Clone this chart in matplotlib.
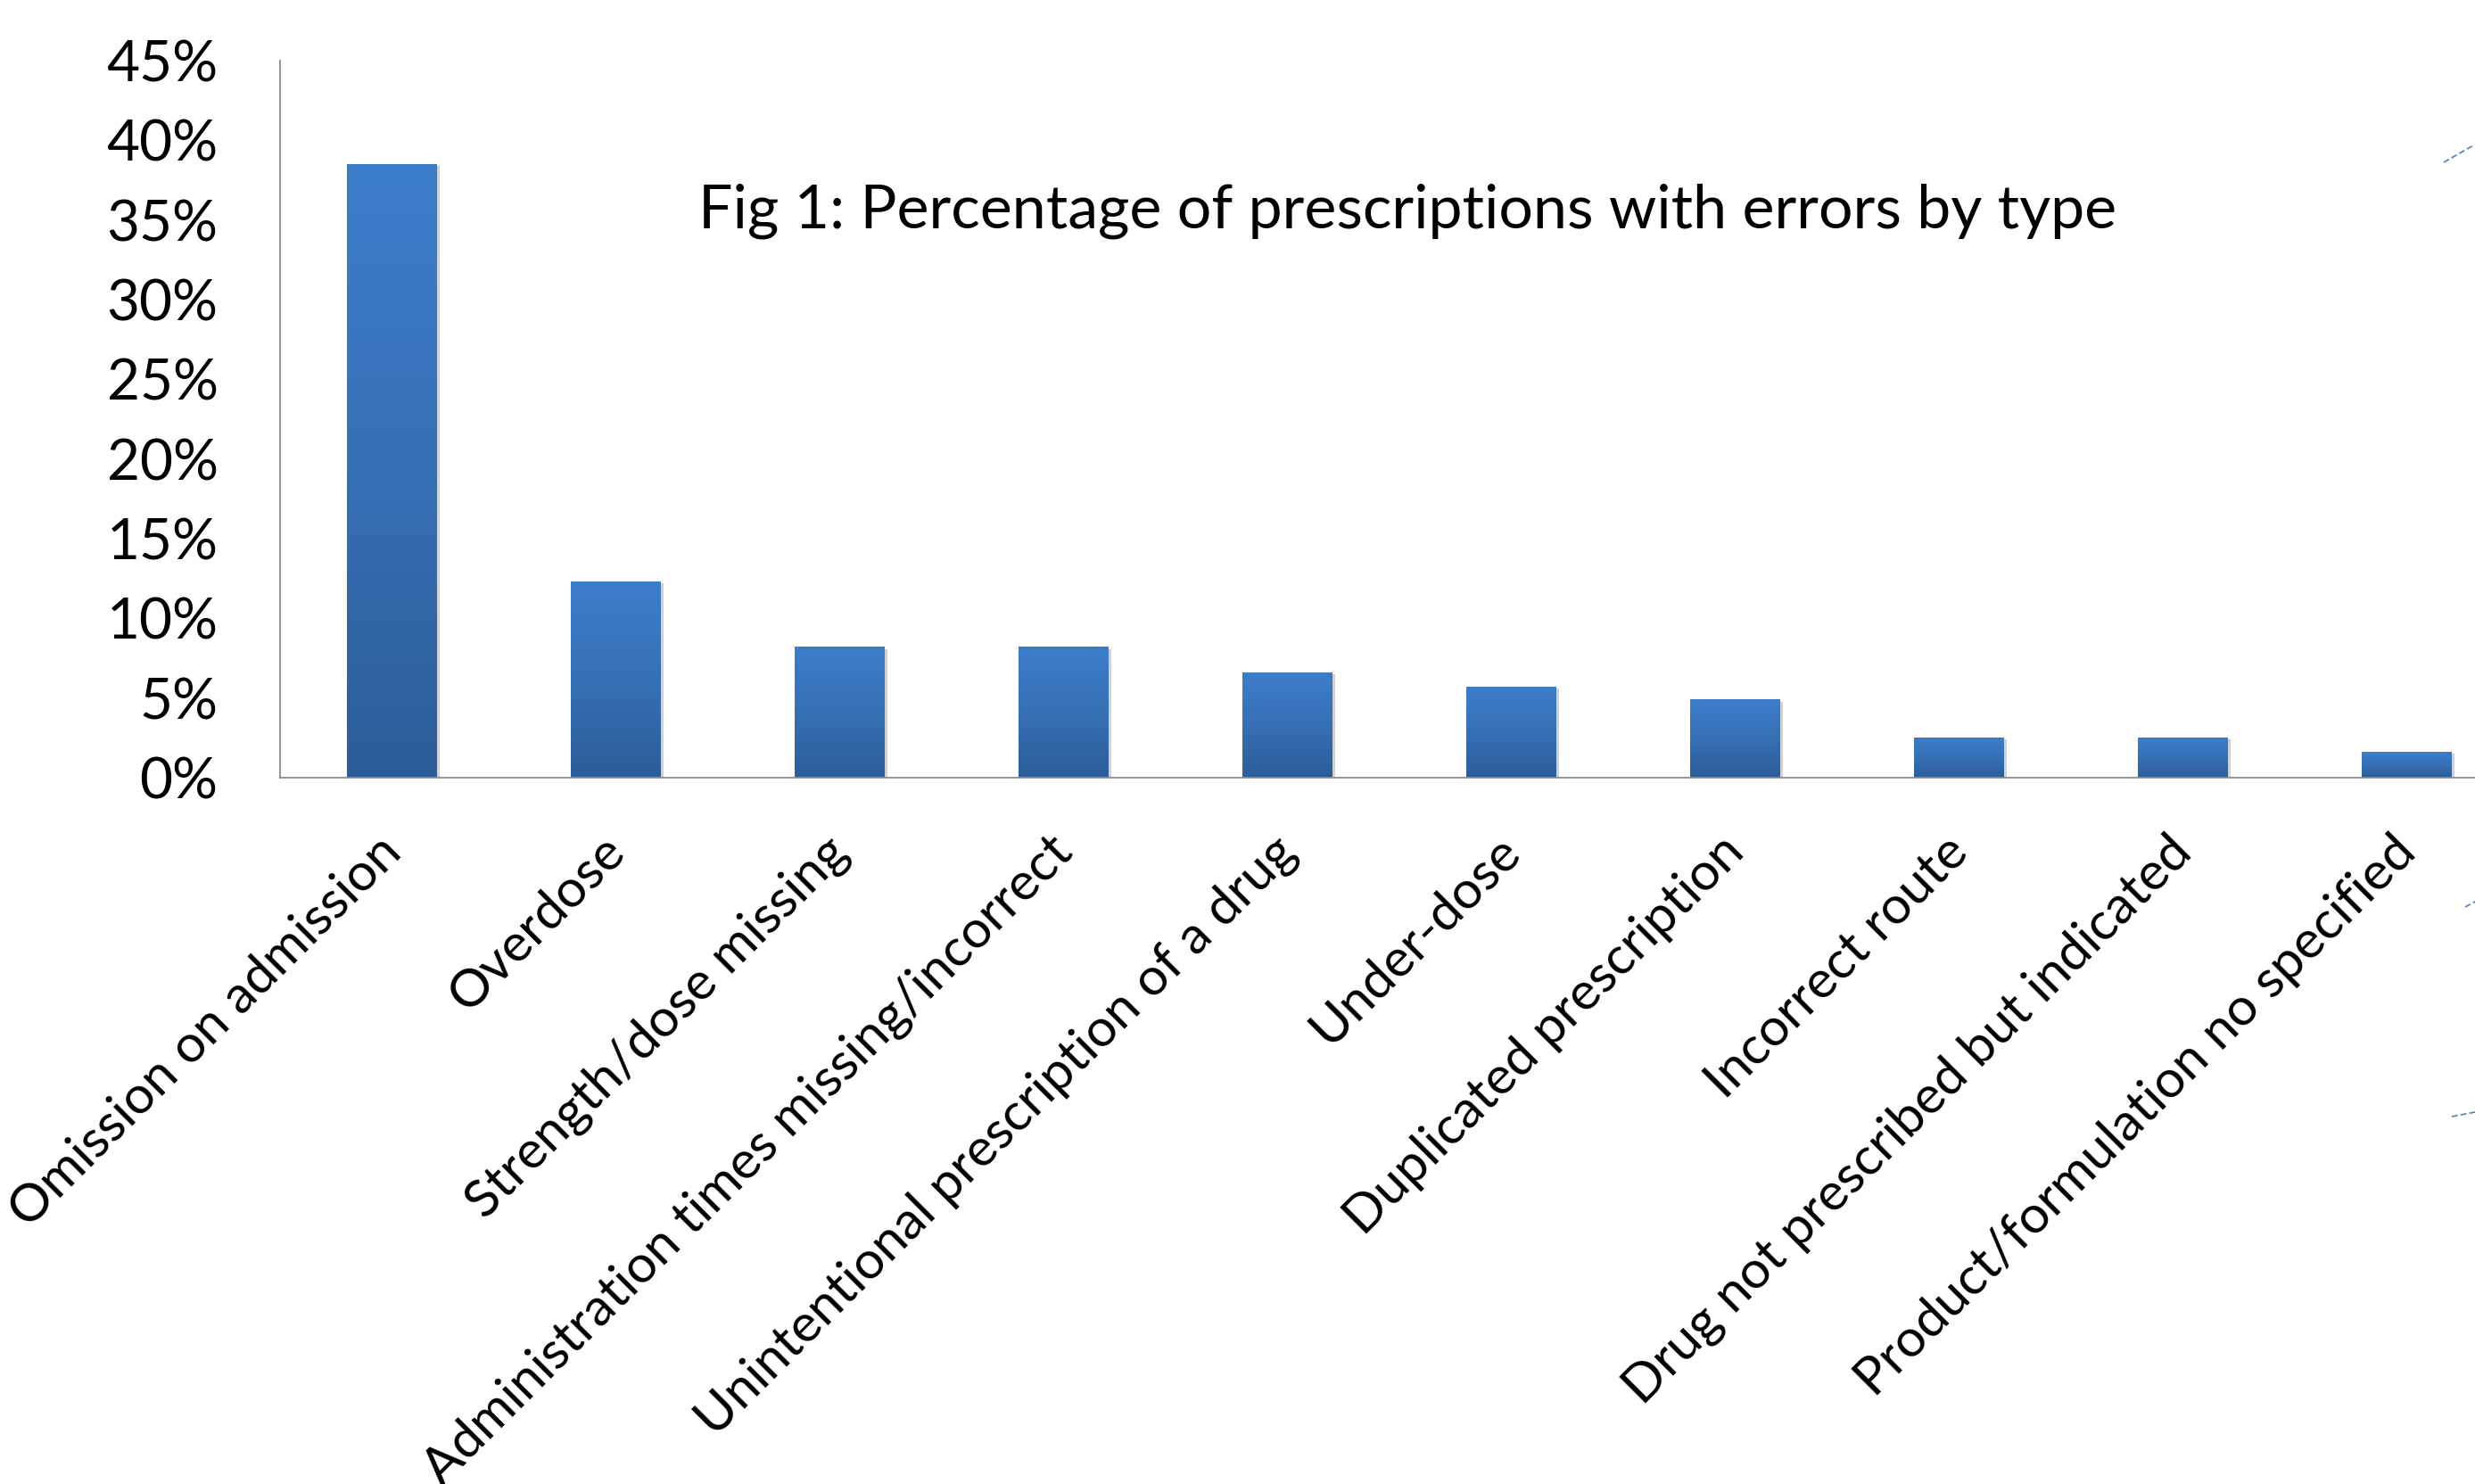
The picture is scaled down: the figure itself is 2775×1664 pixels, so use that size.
import numpy as np
import matplotlib
matplotlib.use("Agg")
import matplotlib.pyplot as plt
import matplotlib.patheffects as pe
from matplotlib.colors import LinearSegmentedColormap
from matplotlib.ticker import MultipleLocator, PercentFormatter
from matplotlib.transforms import ScaledTranslation

plt.rcParams["font.family"] = ["Lato", "DejaVu Sans"]

categories = [
    "Omission on admission",
    "Overdose",
    "Strength/dose missing",
    "Administration times missing/incorrect",
    "Unintentional prescription of a drug",
    "Under-dose",
    "Duplicated prescription",
    "Incorrect route",
    "Drug not prescribed but indicated",
    "Product/formulation no specified",
]
error_pct = [38.5, 12.3, 8.2, 8.2, 6.6, 5.7, 4.9, 2.5, 2.5, 1.6]
title = "Fig 1: Percentage of prescriptions with errors by type"

W, H, DPI = 2775, 1664, 100
fig = plt.figure(figsize=(W / DPI, H / DPI), dpi=DPI)
# axes runs past the right edge, the source image is cropped there
ax = fig.add_axes([314 / W, 1 - 872 / H, 2510 / W, 804 / H])

bar_cmap = LinearSegmentedColormap.from_list("bar", ["#2d5d98", "#3670b5", "#3c7dcb"])
grad = np.linspace(0, 1, 256).reshape(-1, 1)
bar_w = 0.4
x = np.arange(len(categories))
bars = ax.bar(x, error_pct, width=bar_w, color="#3670b5", zorder=2,
              path_effects=[pe.withSimplePatchShadow(offset=(2.5, -1.5), shadow_rgbFace="#000000", alpha=0.18),
                            pe.Normal()])
for b, v in zip(bars, error_pct):
    im = ax.imshow(grad, cmap=bar_cmap, origin="lower", aspect="auto", zorder=3,
                   extent=[b.get_x(), b.get_x() + b.get_width(), 0, v])
    im.set_clip_path(b)

ax.set_xlim(-0.5, len(categories) - 0.5)
ax.set_ylim(0, 45)
ax.yaxis.set_major_locator(MultipleLocator(5))
ax.yaxis.set_major_formatter(PercentFormatter(decimals=0))

for s in ["top", "right"]:
    ax.spines[s].set_visible(False)
for s in ["left", "bottom"]:
    ax.spines[s].set_color("#8c8c8c")
    ax.spines[s].set_linewidth(1.3)
    ax.spines[s].set_zorder(4)

ax.set_xticks(x)
ax.set_xticklabels(categories, rotation=45, ha="right", va="top")
ax.tick_params(axis="x", length=0, pad=40, labelsize=42.5)
ax.tick_params(axis="y", length=0, pad=50, labelsize=46)
shift = ScaledTranslation(0.2, 0, fig.dpi_scale_trans)
for lbl in ax.get_xticklabels():
    lbl.set_transform(lbl.get_transform() + shift)

fig.text(1578 / W, 1 - 255 / H, title, ha="center", va="baseline", fontsize=49)

# leader line fragments visible at the cropped right edge
for (x0, y0, x1, y1) in [(2740, 182, 2775, 162), (2764, 1017, 2775, 1011), (2749, 1252, 2775, 1247)]:
    fig.add_artist(plt.Line2D([x0 / W, x1 / W], [1 - y0 / H, 1 - y1 / H], transform=fig.transFigure,
                              color="#4f81bd", lw=1.2, ls=(0, (4, 2))))

fig.savefig("out.png", dpi=DPI)
